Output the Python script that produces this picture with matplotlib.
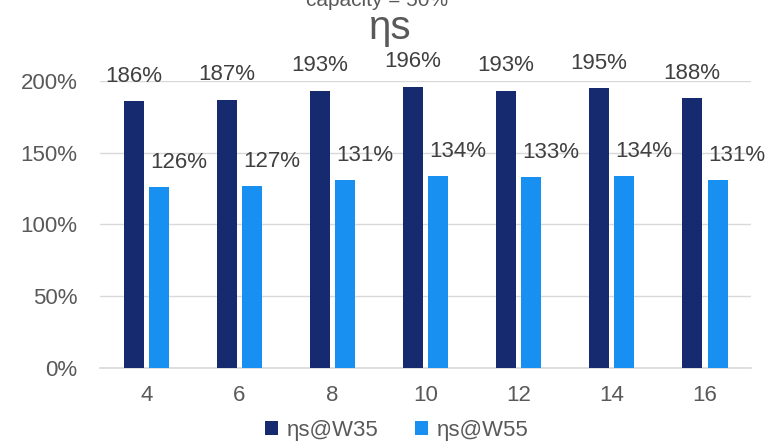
import matplotlib
matplotlib.use("Agg")
import matplotlib.pyplot as plt
import numpy as np
from matplotlib.ticker import FuncFormatter

categories = ["4", "6", "8", "10", "12", "14", "16"]
w35 = [186, 187, 193, 196, 193, 195, 188]
w55 = [126, 127, 131, 134, 133, 134, 131]
series_names = ["ηs@W35", "ηs@W55"]
colors = ["#152A6F", "#1890F1"]

plt.rcParams['font.family'] = ['Liberation Sans', 'DejaVu Sans']

fig = plt.figure(figsize=(7.69, 4.41), dpi=100)
ax = fig.add_axes([0.130, 0.1655, 0.847, 0.651])

x = np.arange(len(categories))
bw = 0.215
off = 0.137
b1 = ax.bar(x - off, w35, bw, color=colors[0], label=series_names[0], zorder=3)
b2 = ax.bar(x + off, w55, bw, color=colors[1], label=series_names[1], zorder=3)

fs = 16
for xi, v in zip(x, w35):
    ax.annotate(f"{v}%", (xi - off, v), xytext=(0, 18), textcoords="offset points",
                ha="center", va="center", fontsize=fs, color="#404040", zorder=4)
for xi, v in zip(x, w55):
    ax.annotate(f"{v}%", (xi + off, v), xytext=(14, 17.5), textcoords="offset points",
                ha="center", va="center", fontsize=fs, color="#404040", zorder=4)

ax.set_xlim(-0.5, len(categories) - 0.5)
ax.set_ylim(0, 200)
ax.set_yticks([0, 50, 100, 150, 200])
ax.yaxis.set_major_formatter(FuncFormatter(lambda v, p: f"{int(v)}%"))
ax.set_xticks(x)
ax.set_xticklabels(categories)
ax.tick_params(axis="both", length=0, labelsize=fs, labelcolor="#595959")
ax.tick_params(axis="y", pad=16)
ax.tick_params(axis="x", pad=12)
ax.grid(axis="y", color="#D9D9D9", linewidth=1, zorder=0)
for s in ["top", "right", "left"]:
    ax.spines[s].set_visible(False)
ax.spines["bottom"].set_color("#D9D9D9")
ax.spines["bottom"].set_linewidth(1.2)
ax.set_axisbelow(True)

fig.text(0.508, 0.936, "ηs", ha="center", va="center", fontsize=29, color="#595959")
fig.text(0.49, 1.0, "capacity = 50%", ha="center", va="center", fontsize=15, color="#595959")

fig.legend(handles=[b1, b2], loc="lower center", bbox_to_anchor=(0.516, -0.045), ncol=2,
           frameon=False, fontsize=fs, labelcolor="#595959", handlelength=0.6,
           handleheight=0.6, handletextpad=0.4, columnspacing=1.6)

fig.savefig("out.png", dpi=100)
